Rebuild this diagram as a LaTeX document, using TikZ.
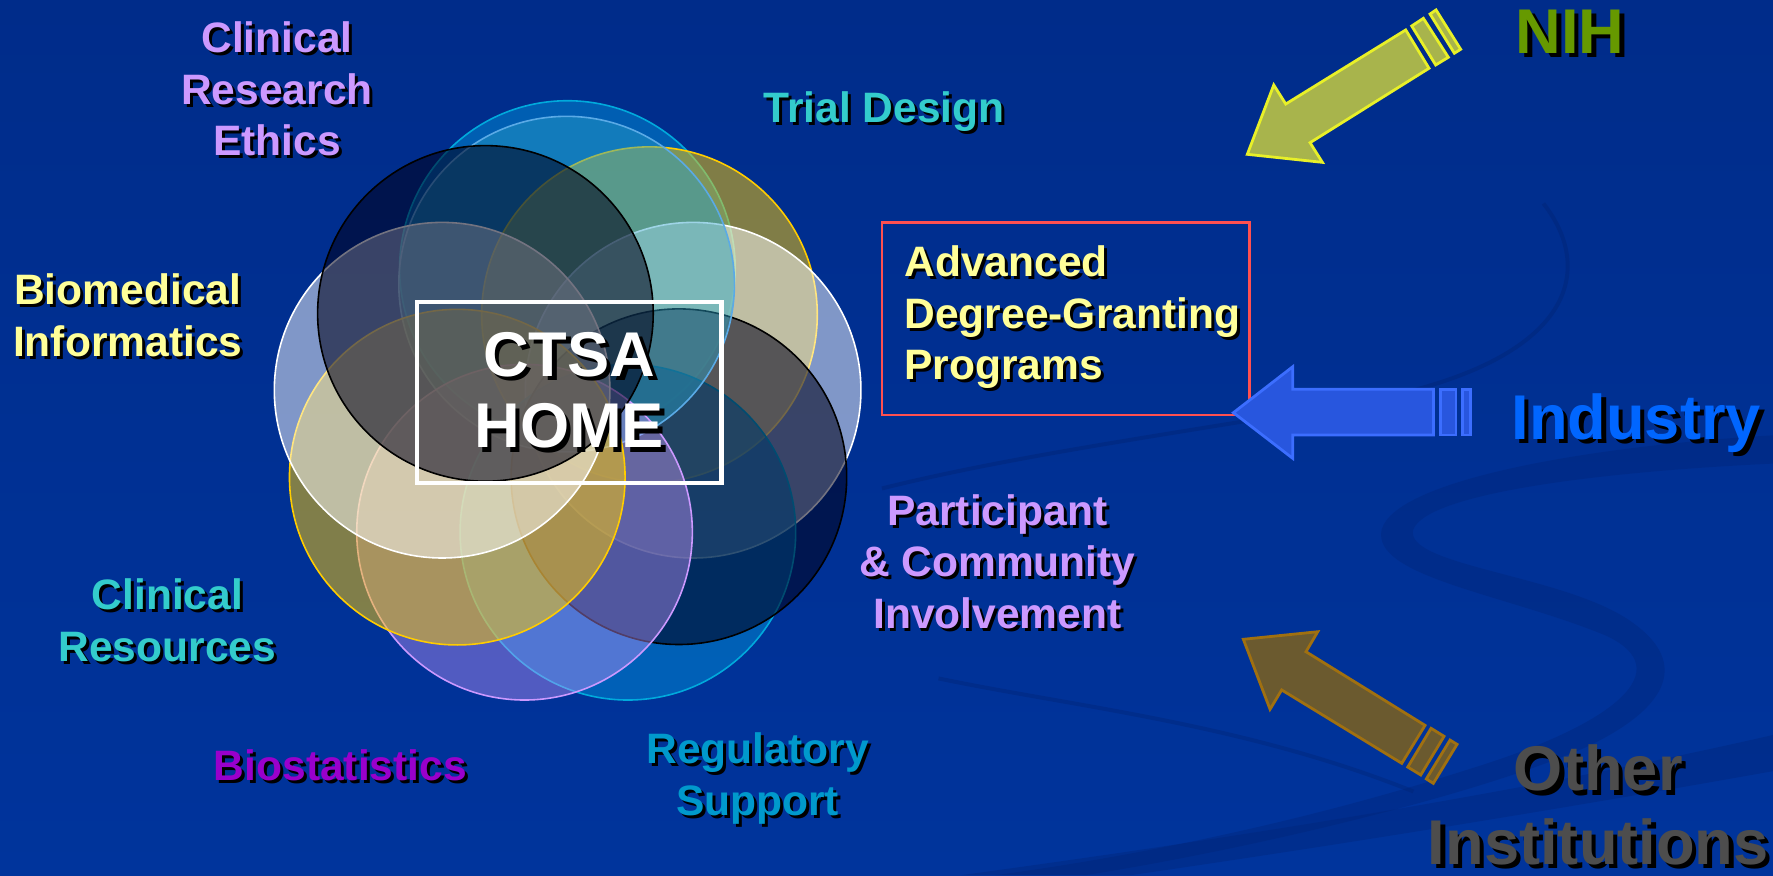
\documentclass[tikz,border=0pt]{standalone}
\usepackage{fontspec}
\setmainfont{Liberation Sans}
\usepackage{tikz}

\definecolor{bgtop}{RGB}{0,44,138}
\definecolor{bgbot}{RGB}{0,52,156}
\definecolor{swirl}{RGB}{0,36,118}
\definecolor{lav}{HTML}{CC99FF}
\definecolor{teal}{HTML}{33CCCC}
\definecolor{paleyel}{HTML}{FFFF99}
\definecolor{biopurp}{HTML}{9900CC}
\definecolor{regblue}{HTML}{0099CC}
\definecolor{nihgreen}{HTML}{669900}
\definecolor{indblue}{HTML}{0066FF}
\definecolor{othgray}{HTML}{4D4D4D}
\definecolor{boxred}{HTML}{FF5050}
\definecolor{cyanline}{RGB}{0,170,220}
\definecolor{goldfill}{RGB}{255,204,0}
\definecolor{bluefill}{RGB}{0,128,204}
\definecolor{tealfill}{RGB}{40,160,200}
\definecolor{tealline}{RGB}{90,170,230}
\definecolor{navyfill}{RGB}{0,0,25}
\definecolor{nihfill}{RGB}{168,180,76}
\definecolor{nihline}{RGB}{232,240,40}
\definecolor{indfill}{RGB}{40,86,222}
\definecolor{indline}{RGB}{60,110,255}
\definecolor{othfill}{RGB}{107,90,47}
\definecolor{othline}{RGB}{160,112,16}

\newcommand\smallfnt{\bfseries\fontsize{10.7}{13}\selectfont}
\newcommand\bigfnt{\bfseries\fontsize{15.9}{18}\selectfont}
\newcommand\shtxt[1]{\mbox{\makebox[0pt][l]{\hspace{0.07em}\raisebox{-0.07em}{\color{black}#1}}#1}}

\tikzset{
  petal/.style={line width=0.4pt},
  blockarrow/.style={line width=0.7pt,line join=miter},
  swoosh/.style={fill=swirl,fill opacity=0.35}
}

\begin{document}
\begin{tikzpicture}[x=0.01cm,y=-0.01cm,
  lbl/.style={align=center,font=\smallfnt,inner sep=0pt},
  biglbl/.style={align=center,font=\bigfnt,inner sep=0pt}]
\useasboundingbox (0,0) rectangle (1568,774);
\shade[top color=bgtop,bottom color=bgbot] (0,0) rectangle (1568,774);

\fill[swoosh] (1568,385) .. controls (1400,395) and (1235,425) .. (1222,468) .. controls (1212,510) and (1330,525) .. (1420,562) .. controls (1485,592) and (1430,640) .. (1300,680) .. controls (1150,728) and (1000,758) .. (880,774) -- (960,774) .. controls (1100,752) and (1300,705) .. (1400,662) .. controls (1470,630) and (1500,588) .. (1440,548) .. controls (1380,508) and (1240,500) .. (1250,468) .. controls (1262,438) and (1400,418) .. (1568,410) -- cycle;
\fill[swoosh] (1568,650) .. controls (1350,700) and (1100,740) .. (850,774) -- (1000,774) .. controls (1200,745) and (1400,712) .. (1568,682) -- cycle;
\draw[swirl,line width=1pt,opacity=0.45] (1365,180) .. controls (1412,240) and (1392,322) .. (1200,356) .. controls (1050,382) and (900,402) .. (780,432);
\draw[swirl,line width=1pt,opacity=0.4] (830,600) .. controls (950,625) and (1100,640) .. (1250,700);

\filldraw[petal,draw=cyanline,fill=bluefill,fill opacity=0.6] (501.8,237.5) circle[radius=148.4];
\filldraw[petal,draw=goldfill,fill=goldfill,fill opacity=0.5] (574.4,278.3) circle[radius=148.4];
\filldraw[petal,draw=white,fill=white,fill opacity=0.5] (613.0,345.1) circle[radius=148.4];
\filldraw[petal,draw=cyanline,fill=bluefill,fill opacity=0.6] (555.3,470.7) circle[radius=148.4];
\filldraw[petal,draw=black,fill=navyfill,fill opacity=0.55] (600.4,421.6) circle[radius=148.4];
\filldraw[petal,draw=tealline,fill=tealfill,fill opacity=0.45] (501.1,251.3) circle[radius=148.4];
\filldraw[petal,draw=lav,fill=lav,fill opacity=0.4] (463.9,470.7) circle[radius=148.4];
\filldraw[petal,draw=goldfill,fill=goldfill,fill opacity=0.5] (404.4,422.0) circle[radius=148.4];
\filldraw[petal,draw=white,fill=white,fill opacity=0.5] (391.0,345.1) circle[radius=148.4];
\filldraw[petal,draw=black,fill=navyfill,fill opacity=0.55] (429.3,277.2) circle[radius=148.4];

\node[biglbl,draw=white,line width=1.15pt,text=white,minimum width=2.69cm,minimum height=1.6cm] (home) at (503.5,347) {\shtxt{CTSA}\\\shtxt{HOME}};

\node[lbl,text=lav] (ethics) at (245,80) {\shtxt{Clinical}\\\shtxt{Research}\\\shtxt{Ethics}};
\node[lbl,text=teal] (trial) at (782,100) {\shtxt{Trial Design}};
\node[lbl,text=paleyel] (bioinf) at (113,280) {\shtxt{Biomedical}\\\shtxt{Informatics}};
\node[lbl,text=teal] (clinres) at (148,550) {\shtxt{Clinical}\\\shtxt{Resources}};
\node[lbl,text=biopurp] (biostat) at (301,678) {\shtxt{Biostatistics}};
\node[lbl,text=regblue] (regul) at (670,690) {\shtxt{Regulatory}\\\shtxt{Support}};
\node[lbl,text=lav] (partic) at (882,498) {\shtxt{Participant}\\\shtxt{\& Community}\\\shtxt{Involvement}};
\node[lbl,draw=boxred,line width=0.6pt,text=paleyel,align=left,text width=2.85cm,inner xsep=0.2cm,inner ysep=0pt,minimum height=1.7cm] (degree) at (942.5,282) {\shtxt{Advanced}\\\shtxt{Degree-Granting}\\\shtxt{Programs}};

\node[biglbl,text=nihgreen] (nih) at (1388.5,30) {\shtxt{NIH}};
\node[biglbl,text=indblue] (industry) at (1447,376) {\shtxt{Industry}};
\node[biglbl,text=othgray,font=\bfseries\fontsize{15.9}{18.5}\selectfont] (other) at (1413.5,714) {\shtxt{Other}\\\shtxt{Institutions}};

\filldraw[blockarrow,fill=nihfill,draw=nihline] (1103.1,136.5) -- (1126.5,75.2) -- (1137.1,92) -- (1243.2,26.5) -- (1263.8,60.4) -- (1158.6,126.2) -- (1169.5,143.6) -- cycle;
\filldraw[blockarrow,fill=nihfill,draw=nihline] (1248.5,23) -- (1258.8,16.2) -- (1280.9,50.7) -- (1269.7,57.5) -- cycle;
\filldraw[blockarrow,fill=nihfill,draw=nihline] (1264.7,12.4) -- (1270,8.8) -- (1291.8,43.6) -- (1286.2,47.1) -- cycle;

\filldraw[blockarrow,fill=indfill,draw=indline] (1090.8,365) -- (1143.3,324.3) -- (1143.3,344.3) -- (1267.7,344.3) -- (1267.7,384.7) -- (1143.3,384.7) -- (1143.3,405.4) -- cycle;
\filldraw[blockarrow,fill=indfill,draw=indline] (1273.6,344.3) rectangle (1287.7,384.7);
\filldraw[blockarrow,fill=indfill,draw=indline] (1293.3,344.3) rectangle (1300.7,384.7);

\filldraw[blockarrow,fill=othfill,draw=othline] (1099.6,565.4) -- (1165.4,558.7) -- (1155,576.4) -- (1260.3,641.5) -- (1239.7,675.1) -- (1133.5,610.2) -- (1123.2,627.3) -- cycle;
\filldraw[blockarrow,fill=othfill,draw=othline] (1265.6,644.1) -- (1277.1,651.2) -- (1256.5,685.4) -- (1245,678.4) -- cycle;
\filldraw[blockarrow,fill=othfill,draw=othline] (1282.4,654.5) -- (1288.6,658.3) -- (1267.6,692.8) -- (1261.4,688.9) -- cycle;
\end{tikzpicture}
\end{document}
